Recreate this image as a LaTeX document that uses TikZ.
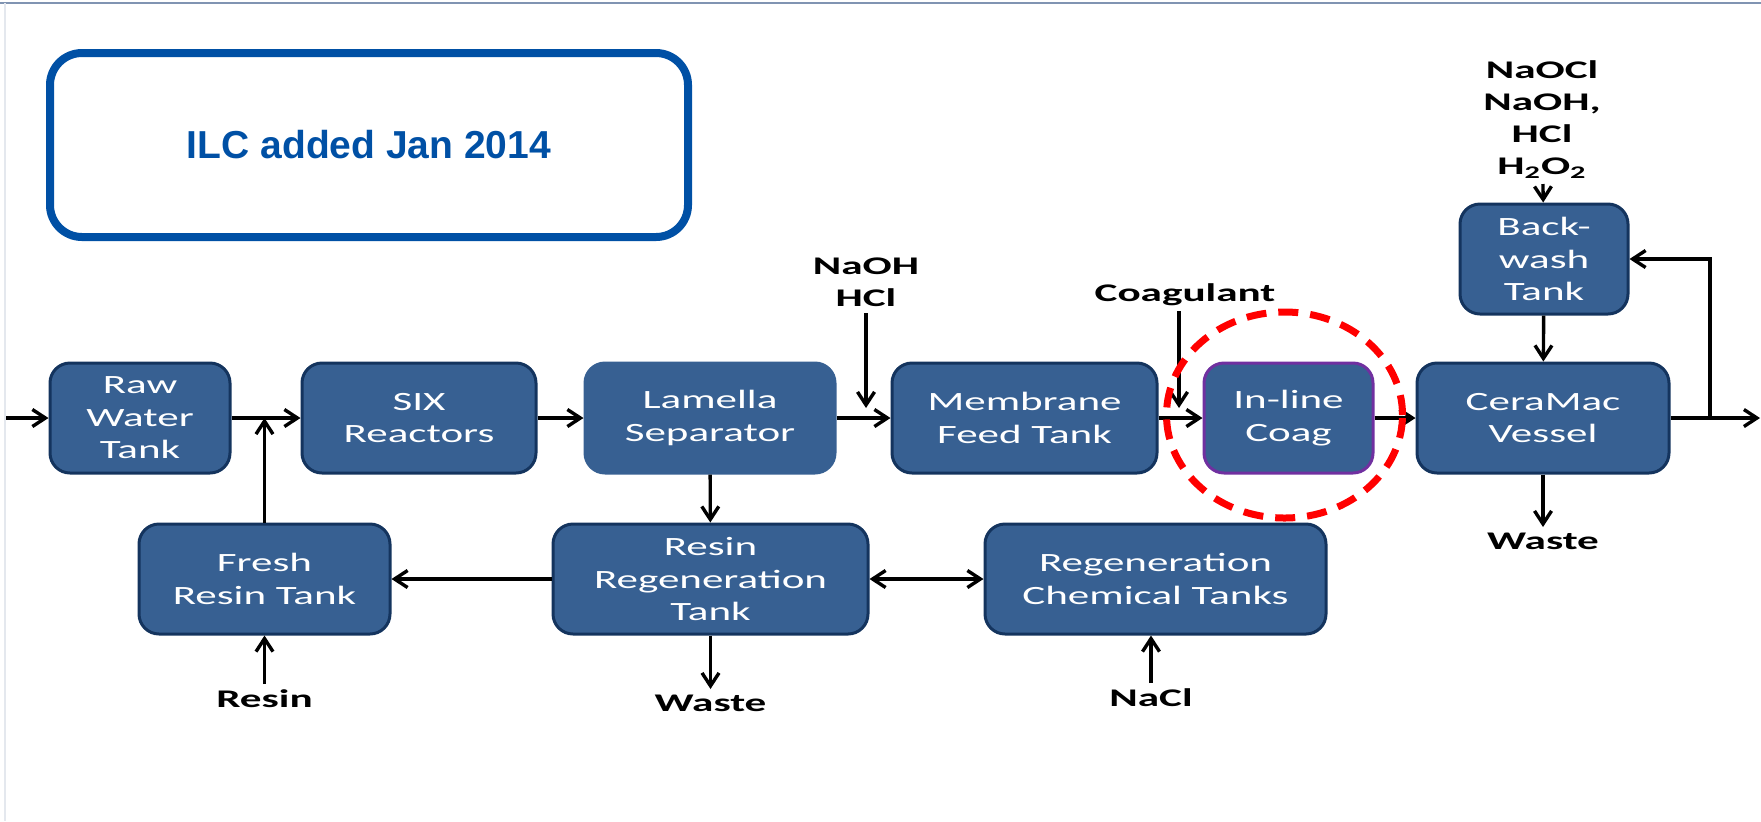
\documentclass[tikz,border=0pt]{standalone}
\usepackage{fontspec}
\usepackage{tikz}
\usetikzlibrary{arrows.meta}
\newfontfamily\tankfont{Carlito}[FakeStretch=1.63]
\newfontfamily\chemfont{Carlito}[FakeStretch=1.7]
\newfontfamily\notefont{Liberation Sans}
\definecolor{tankblue}{RGB}{55, 96, 146}
\definecolor{tankedge}{RGB}{20, 52, 94}
\definecolor{coagedge}{RGB}{112, 48, 160}
\definecolor{noteblue}{RGB}{0, 80, 165}
\definecolor{ringred}{RGB}{255, 0, 0}
\definecolor{frameline}{RGB}{128, 148, 178}
\definecolor{paneledge}{RGB}{228, 232, 238}
\tikzset{
  tank/.style={draw=tankedge, fill=tankblue, line width=1.5pt, rounded corners=10pt, inner sep=0pt,
               minimum height=55pt, align=center, text=white, font={\tankfont\fontsize{13.2pt}{16.3pt}\selectfont}},
  chem/.style={inner sep=0pt, outer sep=3pt, align=center, font={\chemfont\bfseries\fontsize{12.7pt}{16pt}\selectfont}},
  note/.style={draw=noteblue, line width=4pt, rounded corners=16pt, minimum width=319pt, minimum height=92pt,
               text=noteblue, font={\notefont\bfseries\fontsize{19.5pt}{23pt}\selectfont}},
  flow/.style={line width=1.7pt, -{Straight Barb[length=6.5pt,width=8.5pt]}},
  both/.style={line width=1.7pt, {Straight Barb[length=6.5pt,width=8.5pt]}-{Straight Barb[length=6.5pt,width=8.5pt]}}
}
\begin{document}
\begin{tikzpicture}[x=0.5pt, y=-0.5pt]
            \useasboundingbox (0,0) rectangle (1761,821);
            \draw[frameline, line width=0.75pt] (0,3) -- (1761,3);
            \draw[paneledge, line width=0.75pt] (5,3) -- (5,821);
            \node[note] (ilc) at (369,145) {ILC added Jan 2014};

            \node[tank, minimum width= 90.0pt]                  (raw)        at ( 140.0,418) {Raw\\Water\\Tank};
            \node[tank, minimum width=117.0pt]                  (six)        at ( 419.0,418) {SIX\\Reactors};
            \node[tank, minimum width=125.0pt, draw=tankblue]   (lamella)    at ( 710.0,418) {Lamella\\Separator};
            \node[tank, minimum width=132.5pt]                  (membrane)   at (1024.5,418) {Membrane\\Feed Tank};
            \node[tank, minimum width= 84.5pt, draw=coagedge]   (coag)       at (1288.5,418) {In-line\\Coag};
            \node[tank, minimum width=126.0pt]                  (ceramac)    at (1543.0,418) {CeraMac\\Vessel};
            \node[tank, minimum width= 84.0pt]                  (backwash)   at (1544.0,259) {Back-\\wash\\Tank};
            \node[tank, minimum width=125.5pt]                  (fresh)      at ( 264.5,579) {Fresh\\Resin Tank};
            \node[tank, minimum width=157.5pt]                  (resinregen) at ( 710.5,579) {Resin\\Regeneration\\Tank};
            \node[tank, minimum width=170.5pt]                  (regenchem)  at (1155.5,579) {Regeneration\\Chemical Tanks};

            \node[chem, anchor=south] (naoh)      at ( 866.0,313) {NaOH\\HCl};
            \node[chem, anchor=base]  (coagulant) at (1185.0,301) {Coagulant};
            \node[chem, anchor=south] (cleanchem) at (1542.0,184) {NaOCl\\NaOH,\\HCl\\H\textsubscript{2}O\textsubscript{2}};
            \node[chem, anchor=north] (resin)     at ( 264.5,684) {Resin};
            \node[chem, anchor=north] (waste1)    at ( 710.5,689) {Waste};
            \node[chem, anchor=north] (nacl)      at (1151.0,683) {NaCl};
            \node[chem, anchor=north] (waste2)    at (1543.0,527) {Waste};

            \coordinate (feed)   at (   6,418);
            \coordinate (outlet) at (1760,418);
            \coordinate (split)  at (1710,418);
            \coordinate (naohin) at ( 866,408);
            \coordinate (coagin) at (1179,408);

            \draw[flow] (feed)       -- (raw);
            \draw[flow] (raw)        -- (six);
            \draw[flow] (fresh)      -- (fresh |- raw.east);
            \draw[flow] (six)        -- (lamella);
            \draw[flow] (lamella)    -- (membrane);
            \draw[flow] (membrane)   -- (coag);
            \draw[flow] (coag)       -- (ceramac);
            \draw[flow] (ceramac)    -- (outlet);
            \draw[flow] (split)      |- (backwash.east);
            \draw[flow] (backwash)   -- (ceramac);
            \draw[flow] (cleanchem)  -- (backwash);
            \draw[flow] (ceramac)    -- (waste2);
            \draw[flow] (naoh)       -- (naohin);
            \draw[flow] (coagulant.south -| coagin) -- (coagin);
            \draw[flow] (lamella)    -- (resinregen);
            \draw[flow] (resinregen) -- (fresh);
            \draw[both] (resinregen) -- (resinregen -| regenchem.west);
            \draw[flow] (resinregen) -- (waste1);
            \draw[flow] (resin)      -- (fresh);
            \draw[flow] (nacl)       -- (nacl |- regenchem.south);

            \draw[ringred, line width=3.5pt, dash pattern=on 10pt off 6pt] (1284.5,415) ellipse (59pt and 51.5pt);
\end{tikzpicture}
\end{document}
